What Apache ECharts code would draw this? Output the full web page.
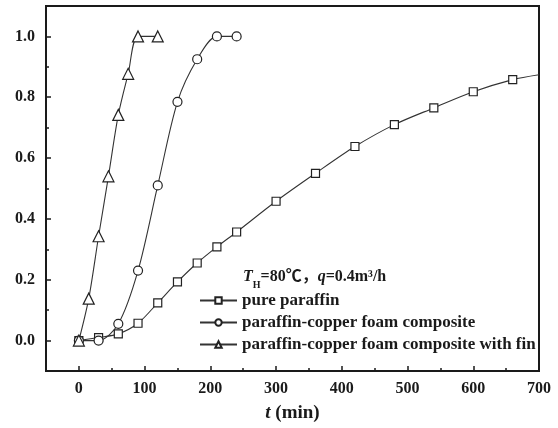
<!DOCTYPE html>
<html>
<head>
<meta charset="utf-8">
<script src="https://cdn.jsdelivr.net/npm/echarts@6/dist/echarts.min.js"></script>
<style>html,body{margin:0;padding:0;background:#fff}#c{width:558px;height:428px}</style>
</head>
<body>
<div id="c"></div>
<script>
var seriesNames = ['pure paraffin', 'paraffin-copper foam composite', 'paraffin-copper foam composite with fin'];
var pureT = [0, 30, 60, 90, 120, 150, 180, 210, 240, 300, 360, 420, 480, 540, 600, 660, 700];
var pureV = [0, 0.01, 0.022, 0.057, 0.124, 0.193, 0.255, 0.308, 0.357, 0.458, 0.55, 0.638, 0.71, 0.765, 0.818, 0.858, 0.874];
var foamT = [0, 30, 60, 90, 120, 150, 180, 210, 240];
var foamV = [0, 0, 0.055, 0.23, 0.51, 0.785, 0.925, 1.0, 1.0];
var finT = [0, 15, 30, 45, 60, 75, 90, 120];
var finV = [0, 0.138, 0.343, 0.54, 0.742, 0.877, 1.0, 1.0];
var xMajor = [0, 100, 200, 300, 400, 500, 600, 700];
var xMinor = [50, 150, 250, 350, 450, 550, 650];
var yMajor = [0, 0.2, 0.4, 0.6, 0.8, 1.0];
var yMinor = [0.1, 0.3, 0.5, 0.7, 0.9];

function pairs(t, v, noSymbolLast) {
  return t.map(function (x, i) {
    var p = {value: [x, v[i]]};
    if (noSymbolLast && i === t.length - 1) p.symbol = 'none';
    return p;
  });
}

var FONT = '"Liberation Serif", "Times New Roman", "Noto Sans CJK SC", serif';
var DARK = '#1a1a1a';
var chart = echarts.init(document.getElementById('c'));
var symStyle = {color: '#fff', borderColor: '#222', borderWidth: 1.2};
function mkSeries(name, data, sym, size) {
  return {
    name: name, type: 'line', data: data, smooth: 0.3,
    symbol: sym, symbolSize: size, showAllSymbol: true,
    lineStyle: {color: '#333', width: 1.1},
    itemStyle: symStyle, z: 5
  };
}
function tickAxis(min, max, pos, vals, len) {
  return {
    type: 'value', min: min, max: max, position: pos,
    axisLine: {show: false, onZero: false},
    axisTick: {show: true, inside: true, length: len, customValues: vals, lineStyle: {color: DARK, width: 1.5}},
    axisLabel: {show: false},
    splitLine: {show: false}
  };
}
chart.setOption({
  animation: false,
  backgroundColor: '#fff',
  grid: {left: 46, right: 19, top: 6, bottom: 55, show: true, borderColor: DARK, borderWidth: 2, backgroundColor: 'transparent'},
  xAxis: [{
    type: 'value', min: -50, max: 700, position: 'bottom',
    name: '{i|t} (min)', nameLocation: 'middle', nameGap: 33,
    nameTextStyle: {fontFamily: FONT, fontWeight: 'bold', fontSize: 19, color: DARK,
      rich: {i: {fontFamily: FONT, fontWeight: 'bold', fontStyle: 'italic', fontSize: 19, color: DARK}}},
    axisLine: {show: true, onZero: false, lineStyle: {color: DARK, width: 2}},
    axisTick: {show: false},
    axisLabel: {customValues: xMajor, margin: 10, fontFamily: FONT, fontWeight: 'bold', fontSize: 16, color: DARK},
    splitLine: {show: false}
  }, tickAxis(-50, 700, 'bottom', xMajor, 5), tickAxis(-50, 700, 'bottom', xMinor, 3)],
  yAxis: [{
    type: 'value', min: -0.1, max: 1.1, position: 'left',
    axisLine: {show: true, onZero: false, lineStyle: {color: DARK, width: 2}},
    axisTick: {show: false},
    axisLabel: {customValues: yMajor, margin: 11, fontFamily: FONT, fontWeight: 'bold', fontSize: 16, color: DARK,
      formatter: function (v) { return v.toFixed(1); }},
    splitLine: {show: false}
  }, tickAxis(-0.1, 1.1, 'left', yMajor, 5), tickAxis(-0.1, 1.1, 'left', yMinor, 3)],
  legend: {
    orient: 'vertical', left: 194, top: 287, itemGap: 5, itemWidth: 37, itemHeight: 8,
    textStyle: {fontFamily: FONT, fontWeight: 'bold', fontSize: 17, color: DARK},
    data: seriesNames
  },
  graphic: [{
    type: 'text', left: 243, top: 269,
    style: {
      text: '{it|T}{sub|H}{n|=80℃，}{it|q}{n|=0.4m³/h}',
      rich: {
        it: {fontFamily: FONT, fontWeight: 'bold', fontStyle: 'italic', fontSize: 16, fill: DARK, verticalAlign: 'bottom', lineHeight: 18},
        n: {fontFamily: FONT, fontWeight: 'bold', fontSize: 16, fill: DARK, verticalAlign: 'bottom', lineHeight: 18},
        sub: {fontFamily: FONT, fontWeight: 'bold', fontSize: 10, fill: DARK, verticalAlign: 'bottom', lineHeight: 14, padding: [0, 0, -5, 0]}
      }
    }
  }],
  series: [
    mkSeries(seriesNames[0], pairs(pureT, pureV, true), 'rect', 8),
    mkSeries(seriesNames[1], pairs(foamT, foamV), 'circle', 9),
    mkSeries(seriesNames[2], pairs(finT, finV), 'triangle', 11)
  ]
});
</script>
</body>
</html>
